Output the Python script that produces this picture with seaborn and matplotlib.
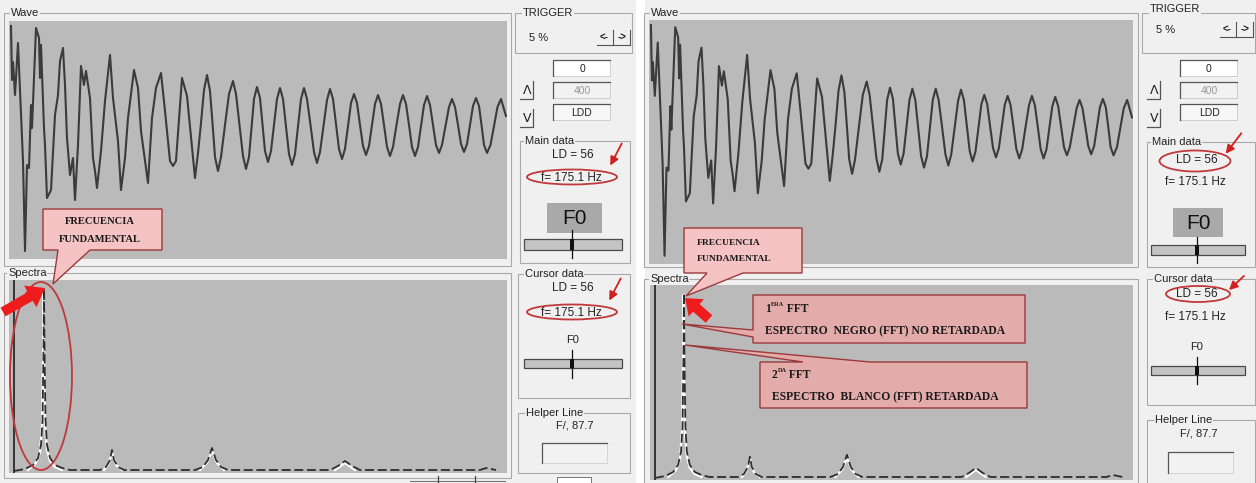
import numpy as np
import pandas as pd
import matplotlib
matplotlib.use("Agg")
import matplotlib.pyplot as plt
import seaborn as sns
from matplotlib.patches import Rectangle, Ellipse, Polygon, FancyArrow

W, H = 1256, 483

# ---------------- data ----------------
# Wave: sample index (0..498) and amplitude (arbitrary units)
wave_x = [2, 3, 4, 6, 9, 11, 14, 16, 18, 20, 22, 23, 27, 30, 31, 32, 35, 36, 38, 42,
          46, 49, 51, 54, 56, 58, 61, 64, 66, 69, 72, 75, 77, 81, 84, 86, 88, 92, 96, 101,
          104, 109, 112, 116, 119, 125, 129, 132, 139, 143, 147, 152, 156, 161, 164, 167,
          173, 178, 186, 189, 192, 195, 198, 201, 203.5, 206, 209, 212, 216, 220, 224,
          227, 230.5, 234, 237, 240, 242.5, 245, 248, 251, 253.5, 256, 259, 262, 265, 268,
          271, 274, 277, 280, 283, 286, 289, 292, 295, 298, 301.5, 305, 308, 311, 314.5, 318,
          321, 324, 327, 330, 333, 336, 339, 342, 345, 348, 351, 354, 357, 360, 363, 366,
          369, 372, 375, 378, 381, 384, 387.5, 391, 394, 397, 400, 403, 406, 409, 412, 415,
          418, 421, 424, 427, 430, 433, 436.5, 440, 443, 446, 449, 452, 455, 458, 461, 464,
          467, 470, 472.5, 475, 478, 481.5, 485, 488.5, 492, 497]
wave_amp = [99, 45, 63, 30, 82, 35, -36, -126, -40, -43, 20, -3, 97, 87, 47, 80, -3, -20, -73, -65,
            10, 30, 64, 77, 40, -13, -50, -33, -75, -20, 59, 40, 54, 27, -33, -46, -63, -26, 24, 70,
            27, -16, -65, -33, 7, 55, 37, -6, -58, 7, 37, 52, 14, -36, -41, -36,
            47, 29, -53, -28, 2, 35, 50, 34, 2, -32, -46, -32, 0, 31, 44,
            31, 0, -31, -44, -32, -3, 26, 38, 27, 0, -26, -37, -26, 0, 26,
            37, 26, -1, -29, -40, -29, -1, 26, 37, 26, 0, -27, -38, -27, -1, 25,
            36, 26, 1, -24, -34, -24, -1, 22, 31, 22, 0, -21, -30, -21, 0, 21,
            30, 21, 0, -22, -31, -22, 0, 21, 30, 21, 0, -22, -31, -22, -1, 20,
            29, 20, 0, -20, -28, -20, -1, 18, 26, 18, 0, -19, -27, -19, 0, 19,
            27, 19, 0, -20, -28, -20, -1, 18, 26, 9]

# Spectra: frequency bin (0..498) and magnitude
spec_black_x = [5, 16, 24, 29, 32, 33.5, 34.5, 35, 35.5, 36.5, 38, 41, 46, 53, 61, 91, 97, 101, 103,
                105, 109, 115, 186, 194, 199, 203, 207, 212, 219, 321, 329, 336, 343, 351,
                471, 477, 482, 487]
spec_black = [0, 2, 6, 13, 26, 51, 121, 183, 121, 51, 26, 13, 6, 3, 1, 1, 4, 11, 21,
              11, 4, 1, 1, 4, 11, 23, 11, 4, 1, 1, 5, 10, 5, 1,
              1, 3, 2, 1]

spec_white_x = [19, 27, 31, 33, 34, 34.5, 35, 36, 38, 41, 46, 53,
                95, 99, 102, 103, 104, 107, 113,
                191, 198, 203, 208, 215,
                326, 336, 346]
spec_white = [1, 8, 19, 46, 111, 181, 111, 46, 21, 10, 4, 1,
              1, 6, 15, 19, 15, 6, 1,
              1, 8, 20, 8, 1,
              1, 8, 1]
spec_white_seg = [0] * 12 + [1] * 7 + [2] * 5 + [3] * 3

panel_labels = ["A", "B"]
trigger_text = "5 %"
box_values = ["0", "400", "LDD"]
ld_text = "LD = 56"
freq_text = "f= 175.1 Hz"
helper_text = "F/, 87.7"

# ---------------- figure ----------------
fig = plt.figure(figsize=(12.56, 4.83), dpi=100)
fig.patch.set_facecolor("white")

UI = "#f0f0f0"
PLOT = "#bababa"
FRAME = "#a9a9a9"
SANS = "Liberation Sans"
SERIF = "Liberation Serif"


def add_ax(x0, y0, x1, y1, z):
    return fig.add_axes([x0 / W, 1 - y1 / H, (x1 - x0) / W, (y1 - y0) / H], zorder=z)


bg = add_ax(0, 0, W, H, 0)
bg.set_xlim(0, W)
bg.set_ylim(H, 0)
bg.axis("off")
bg.add_patch(Rectangle((0, 0), 636, H, fc=UI, ec="none"))
bg.add_patch(Rectangle((645, 0), W - 645, H, fc=UI, ec="none"))

ov = add_ax(0, 0, W, H, 10)
ov.set_xlim(0, W)
ov.set_ylim(H, 0)
ov.axis("off")
ov.patch.set_alpha(0)


def groupbox(x0, y0, x1, y1, title, tx, ty=None):
    bg.add_patch(Rectangle((x0, y0), x1 - x0, y1 - y0, fc="none", ec=FRAME, lw=0.8))
    bg.add_patch(Rectangle((x0 + 1, y0 + 1), x1 - x0, y1 - y0, fc="none", ec="white", lw=0.6, zorder=0.5))
    bg.text(tx, y0 if ty is None else ty, title, ha="left", va="center", fontsize=8,
            family=SANS, color="#222", bbox=dict(fc=UI, ec="none", pad=0.6))


def style_plot(ax):
    ax.set_facecolor(PLOT)
    for s in ax.spines.values():
        s.set_visible(False)
    ax.set_xticks([])
    ax.set_yticks([])
    ax.set_xlabel("")
    ax.set_ylabel("")


wave_df = pd.DataFrame({"x": wave_x, "y": wave_amp})
black_df = pd.DataFrame({"x": spec_black_x, "y": spec_black})
white_df = pd.DataFrame({"x": spec_white_x, "y": spec_white, "seg": spec_white_seg})


def draw_wave(box):
    ax = add_ax(*box, 2)
    sns.lineplot(data=wave_df, x="x", y="y", ax=ax, color="#3b3b3b", lw=1.5,
                 sort=False, estimator=None, errorbar=None)
    ax.set_xlim(0, 498)
    ax.set_ylim(-134, 104)
    style_plot(ax)
    return ax


def draw_spec(box):
    ax = add_ax(*box, 2)
    sns.lineplot(data=white_df, x="x", y="y", hue="seg", palette=["white"] * 4, ax=ax, lw=1.6,
                 sort=False, estimator=None, errorbar=None, legend=False)
    sns.lineplot(data=black_df, x="x", y="y", ax=ax, color="#2e2e2e", lw=1.3,
                 sort=False, estimator=None, errorbar=None)
    ax.lines[-1].set_dashes([5, 2])
    ax.axvline(5, color="#2b2b2b", lw=1.3)
    ax.set_xlim(0, 498)
    ax.set_ylim(-2, 191)
    style_plot(ax)
    return ax


def controls(ox, trig_y, main_box, cur_box, help_box, thumb_x, sl_main, sl_cur,
             ld_main_y, f_main_y, f0box, ld_cur_y, f_cur_y, f0_cur_y, help_y, help_inbox, cx):
    tx0, tx1 = ox
    groupbox(tx0, 13, tx1, 53, "TRIGGER", tx0 + 8, ty=13 if trig_y > 33 else 9)
    bg.text(tx0 + 14, trig_y, trigger_text, fontsize=8, family=SANS, va="center", color="#222")
    bg.text(tx1 - 32, trig_y, "<-", fontsize=7, family=SANS, weight="bold", va="center", color="#222")
    bg.text(tx1 - 14, trig_y, "->", fontsize=7, family=SANS, weight="bold", va="center", color="#222")
    bg.plot([tx1 - 35, tx1 - 2], [trig_y + 7, trig_y + 7], color="#555", lw=0.8)
    bg.plot([tx1 - 19, tx1 - 19], [trig_y - 8, trig_y + 7], color="#555", lw=0.8)
    bg.plot([tx1 - 2, tx1 - 2], [trig_y - 8, trig_y + 7], color="#555", lw=0.8)
    bx0 = tx0 + 38
    for i, (val, fc, col) in enumerate(zip(box_values, ["white", "#f2f2f2", "#f7f7f7"],
                                            ["#222", "#999", "#222"])):
        y0 = 60 + i * 22
        bg.add_patch(Rectangle((bx0, y0), 57, 16, fc=fc, ec="#c8c8c8", lw=0.6))
        bg.plot([bx0, bx0, bx0 + 57], [y0 + 16, y0, y0], color="#555", lw=0.9)
        bg.text(bx0 + 29, y0 + 8.5, val, ha="center", va="center", fontsize=7.5, family=SANS, color=col)
    for sym, yy in [("\u039b", 90), ("V", 118)]:
        bg.text(tx0 + 12, yy, sym, ha="center", va="center", fontsize=9, family="DejaVu Sans", color="#222")
        bg.plot([tx0 + 5, tx0 + 18, tx0 + 18], [yy + 9, yy + 9, yy - 9], color="#555", lw=0.9)
    groupbox(*main_box, "Main data", main_box[0] + 5)
    bg.text(cx + 2, ld_main_y, ld_text, ha="center", va="center", fontsize=8.5, family=SANS, color="#222")
    bg.text(cx, f_main_y, freq_text, ha="center", va="center", fontsize=8.5, family=SANS, color="#222")
    fx0, fy0, fx1, fy1 = f0box
    bg.add_patch(Rectangle((fx0, fy0), fx1 - fx0, fy1 - fy0, fc="#a9a9a9", ec="none"))
    bg.text((fx0 + fx1) / 2, (fy0 + fy1) / 2 + 1, "F0", ha="center", va="center", fontsize=15,
            family=SANS, color="#111")
    groupbox(*cur_box, "Cursor data", cur_box[0] + 7)
    bg.text(cx + 2, ld_cur_y, ld_text, ha="center", va="center", fontsize=8.5, family=SANS, color="#222")
    bg.text(cx, f_cur_y, freq_text, ha="center", va="center", fontsize=8.5, family=SANS, color="#222")
    bg.text(cx + 2, f0_cur_y, "F0", ha="center", va="center", fontsize=8, family=SANS, color="#222")
    for (sx0, sy0, sx1, sy1, ly0, ly1) in [sl_main, sl_cur]:
        bg.add_patch(Rectangle((sx0, sy0), sx1 - sx0, sy1 - sy0, fc="#c4c4c4", ec="#4a4a4a", lw=0.9))
        bg.add_patch(Rectangle((thumb_x - 2, sy0), 4, sy1 - sy0, fc="#111", ec="none"))
        bg.plot([thumb_x, thumb_x], [ly0, ly1], color="#111", lw=0.9)
    groupbox(*help_box, "Helper Line", help_box[0] + 8)
    bg.text(cx + 4, help_y, helper_text, ha="center", va="center", fontsize=8, family=SANS, color="#222")
    hx0, hy0, hx1, hy1 = help_inbox
    bg.add_patch(Rectangle((hx0, hy0), hx1 - hx0, hy1 - hy0, fc="#f2f2f2", ec="#cfcfcf", lw=0.6))
    bg.plot([hx0, hx0, hx1], [hy1, hy0, hy0], color="#555", lw=0.9)


# ---------------- panel A ----------------
groupbox(4, 13, 511, 266, "Wave", 11)
groupbox(4, 273, 511, 478, "Spectra", 8)
draw_wave((9, 21, 507, 259))
draw_spec((9, 280, 507, 473))
controls((515, 632), 38, (520, 141, 630, 263), (518, 274, 630, 398), (518, 413, 630, 473),
         572, (524, 239, 622, 250, 230, 258), (524, 359, 622, 368, 350, 378),
         155, 178, (547, 203, 602, 233), 288, 313, 340, 426, (542, 443, 607, 463), 571)
bg.text(479, 46, panel_labels[0], ha="center", va="center", fontsize=20, family=SANS, color="#111")
bg.plot([410, 505], [481, 481], color="#777", lw=0.8)
for xx in (438, 475):
    bg.plot([xx, xx], [476, 483], color="#444", lw=0.9)
bg.add_patch(Rectangle((557, 477), 34, 8, fc="white", ec="#777", lw=0.7))

# ---------------- panel B ----------------
groupbox(644, 13, 1138, 267, "Wave", 651)
groupbox(644, 279, 1138, 486, "Spectra", 650)
draw_wave((649, 20, 1133, 264))
draw_spec((650, 285, 1133, 480))
controls((1142, 1255), 30, (1147, 142, 1255, 267), (1147, 279, 1255, 405), (1147, 420, 1255, 490),
         1197, (1151, 245, 1245, 255, 237, 263), (1151, 366, 1245, 375, 357, 384),
         160, 182, (1173, 208, 1223, 237), 294, 317, 347, 434, (1168, 452, 1233, 473), 1195)
bg.text(1098, 46, panel_labels[1], ha="center", va="center", fontsize=20, family=SANS, color="#111")

# ---------------- annotations (overlay) ----------------
RED = "#d21f1f"
ERED = "#c0393b"
PINK = "#f5c3c3"
PINK2 = "#e4abab"
EDGE = "#9b3a3a"

for (cxe, cye, we, he) in [(572, 177, 90, 15), (572, 312, 90, 15), (1195, 161, 71, 21), (1198, 294, 64, 16),
                           (41, 376, 62, 188)]:
    ov.add_patch(Ellipse((cxe, cye), we, he, fc="none", ec=ERED, lw=1.3))
for (x0, y0, x1, y1) in [(623, 141, 609, 168), (622, 276, 608, 303), (1243, 131, 1224, 156),
                         (1246, 274, 1227, 292)]:
    ov.annotate("", xy=(x1, y1), xytext=(x0, y0),
                arrowprops=dict(arrowstyle="-|>,head_length=0.5,head_width=0.25", color=RED, lw=1.3))
ov.add_patch(FancyArrow(3, 312, 42, -24, width=10, head_width=25, head_length=17,
                        length_includes_head=True, fc="#ee1c1c", ec="none"))
ov.add_patch(FancyArrow(709, 319, -24, -21, width=10, head_width=23, head_length=15,
                        length_includes_head=True, fc="#ee1c1c", ec="none"))

ov.add_patch(Polygon([(43, 209), (162, 209), (162, 250), (90, 250), (53, 284), (58, 250), (43, 250)],
                     closed=True, fc=PINK, ec=EDGE, lw=1.0))
ov.text(100, 221, "FRECUENCIA", ha="center", va="center", fontsize=7.6, family=SERIF, weight="bold", color="#1a1a1a")
ov.text(100, 240, "FUNDAMENTAL", ha="center", va="center", fontsize=7.6, family=SERIF, weight="bold", color="#1a1a1a")

ov.add_patch(Polygon([(684, 228), (802, 228), (802, 273), (743, 273), (686, 296), (707, 273), (684, 273)],
                     closed=True, fc=PINK, ec=EDGE, lw=1.0))
ov.text(697, 243, "FRECUENCIA", ha="left", va="center", fontsize=6.8, family=SERIF, weight="bold", color="#1a1a1a")
ov.text(697, 259, "FUNDAMENTAL", ha="left", va="center", fontsize=6.8, family=SERIF, weight="bold", color="#1a1a1a")

ov.add_patch(Polygon([(753, 295), (1025, 295), (1025, 343), (753, 343), (753, 337), (682, 324), (753, 330)],
                     closed=True, fc=PINK2, ec=EDGE, lw=1.0))
ov.add_patch(Polygon([(760, 362), (803, 362), (685, 345), (870, 362), (1027, 362), (1027, 408), (760, 408)],
                     closed=True, fc=PINK2, ec=EDGE, lw=1.0))


def fft_title(x, y, num, sup):
    ov.text(x, y, num, ha="left", va="center", fontsize=8.3, family=SERIF, weight="bold", color="#1a1a1a")
    ov.text(x + 5.5, y - 4, sup, ha="left", va="center", fontsize=4.5, family=SERIF, weight="bold", color="#1a1a1a")
    ov.text(x + 5.5 + 4.5 * len(sup), y, " FFT", ha="left", va="center", fontsize=8.3, family=SERIF,
            weight="bold", color="#1a1a1a")


fft_title(765, 309, "1", "ERA")
ov.text(765, 331, "ESPECTRO  NEGRO (FFT) NO RETARDADA", ha="left", va="center", fontsize=8.4,
        family=SERIF, weight="bold", color="#1a1a1a")
fft_title(772, 375, "2", "DA")
ov.text(772, 397, "ESPECTRO  BLANCO (FFT) RETARDADA", ha="left", va="center", fontsize=8.4,
        family=SERIF, weight="bold", color="#1a1a1a")

fig.savefig("out.png", dpi=100, facecolor=fig.get_facecolor())
